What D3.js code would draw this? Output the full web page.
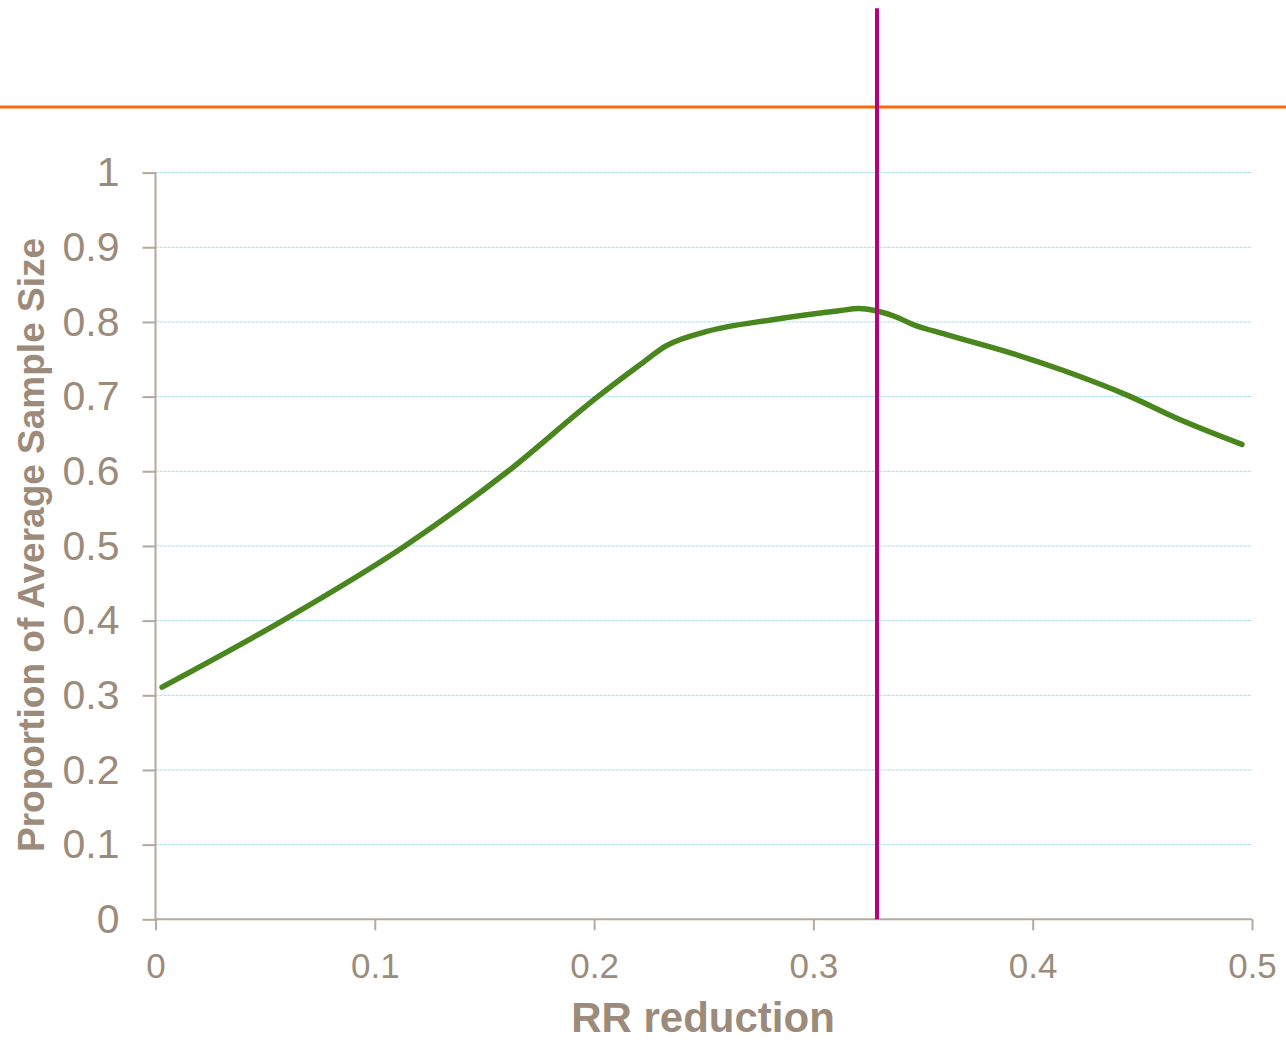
<!DOCTYPE html>
<html>
<head>
<meta charset="utf-8">
<script src="https://cdn.jsdelivr.net/npm/d3@7"></script>
<style>
  html, body { margin: 0; padding: 0; background: #fff; }
  svg { display: block; }
  text { font-family: "Liberation Sans", Arial, sans-serif; }
</style>
</head>
<body>
<svg id="chart" width="1286" height="1043"></svg>
<script>
// RR reduction vs. proportion of average sample size
const rrReduction = [0.003, 0.058, 0.1137, 0.1607, 0.2017, 0.2206, 0.2328, 0.251, 0.2813, 0.3117,
  0.3208, 0.3284, 0.3375, 0.3451, 0.3603, 0.3906, 0.4134, 0.4438, 0.4665, 0.4954];
const proportion = [0.311, 0.400, 0.500, 0.600, 0.700, 0.742, 0.768, 0.787, 0.803, 0.815,
  0.818, 0.815, 0.807, 0.797, 0.7834, 0.758, 0.7356, 0.701, 0.670, 0.636];

const xTicks = [0, 0.1, 0.2, 0.3, 0.4, 0.5];
const xTickLabels = ["0", "0.1", "0.2", "0.3", "0.4", "0.5"];
const yTicks = [0, 0.1, 0.2, 0.3, 0.4, 0.5, 0.6, 0.7, 0.8, 0.9, 1];
const yTickLabels = ["0", "0.1", "0.2", "0.3", "0.4", "0.5", "0.6", "0.7", "0.8", "0.9", "1"];

// Reference markers: vertical cut-off and horizontal target level
const cutoffRR = 0.329;
const targetLevel = 1.088;
const cutoffTop = 1.22;

const xTitle = "RR reduction";
const yTitle = "Proportion of Average Sample Size";

const svg = d3.select("#chart");
const axisColor = "#b3a99e";
const labelColor = "#9c8b7a";

const x = d3.scaleLinear().domain([0, 0.5]).range([155.5, 1252]);
const y = d3.scaleLinear().domain([0, 1]).range([919.3, 172.6]);

// Horizontal gridlines
svg.append("g")
  .selectAll("line")
  .data(yTicks.filter(d => d > 0))
  .join("line")
  .attr("x1", x(0)).attr("x2", x(0.5))
  .attr("y1", d => y(d)).attr("y2", d => y(d))
  .attr("stroke", "#a3def0")
  .attr("stroke-width", 1)
  .attr("stroke-dasharray", "3,1");

// Y axis
const yAxis = d3.axisLeft(y)
  .tickValues(yTicks)
  .tickFormat((d, i) => yTickLabels[i])
  .tickSize(13)
  .tickPadding(23);
const gy = svg.append("g").attr("transform", `translate(${x(0)},0)`).call(yAxis);
gy.select(".domain").attr("stroke", axisColor).attr("stroke-width", 2).attr("d", `M0,${y(0)}V${y(1)}`);
gy.selectAll(".tick line").attr("stroke", axisColor).attr("stroke-width", 2);
gy.selectAll(".tick text")
  .attr("fill", labelColor)
  .attr("font-size", 41)
  .attr("font-family", "Liberation Sans, Arial, sans-serif");

// X axis
const xAxis = d3.axisBottom(x)
  .tickValues(xTicks)
  .tickFormat((d, i) => xTickLabels[i])
  .tickSize(11)
  .tickPadding(23);
const gx = svg.append("g").attr("transform", `translate(0,${y(0)})`).call(xAxis);
gx.select(".domain").attr("stroke", axisColor).attr("stroke-width", 2).attr("d", `M${x(0)},0H${x(0.5)}`);
gx.selectAll(".tick line").attr("stroke", axisColor).attr("stroke-width", 2);
gx.selectAll(".tick text")
  .attr("fill", labelColor)
  .attr("font-size", 35)
  .attr("font-family", "Liberation Sans, Arial, sans-serif");

// Data curve
const pts = rrReduction.map((r, i) => [r, proportion[i]]);
const line = d3.line()
  .x(d => x(d[0]))
  .y(d => y(d[1]))
  .curve(d3.curveMonotoneX);
svg.append("path")
  .datum(pts)
  .attr("d", line)
  .attr("fill", "none")
  .attr("stroke", "#4a861e")
  .attr("stroke-width", 5.5)
  .attr("stroke-linecap", "round")
  .attr("stroke-linejoin", "round");

// Horizontal target line across the whole figure
svg.append("line")
  .attr("x1", 0).attr("x2", 1286)
  .attr("y1", y(targetLevel)).attr("y2", y(targetLevel))
  .attr("stroke", "#f8690a")
  .attr("stroke-width", 3);

// Vertical cut-off line
svg.append("line")
  .attr("x1", x(cutoffRR)).attr("x2", x(cutoffRR))
  .attr("y1", y(cutoffTop)).attr("y2", y(0))
  .attr("stroke", "#b8007a")
  .attr("stroke-width", 4);

// Axis titles
svg.append("text")
  .attr("x", 703).attr("y", 1032)
  .attr("text-anchor", "middle")
  .attr("font-size", 42)
  .attr("font-weight", "bold")
  .attr("fill", labelColor)
  .text(xTitle);

svg.append("text")
  .attr("transform", "translate(44,545) rotate(-90)")
  .attr("text-anchor", "middle")
  .attr("font-size", 37)
  .attr("font-weight", "bold")
  .attr("fill", labelColor)
  .text(yTitle);
</script>
</body>
</html>
